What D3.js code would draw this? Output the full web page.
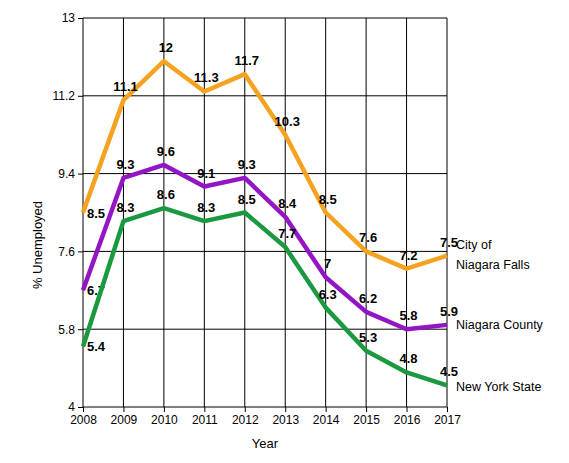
<!DOCTYPE html><html><head><script src="https://cdn.jsdelivr.net/npm/d3@7"></script>
<style>body{margin:0;background:#fff}text{font-family:Arial,"Liberation Sans",sans-serif}</style></head><body>
<svg id="c" width="569" height="463"></svg>
<script>
const years=[2008,2009,2010,2011,2012,2013,2014,2015,2016,2017];
const yTicks=[4,5.8,7.6,9.4,11.2,13];
const city=[8.5,11.1,12,11.3,11.7,10.3,8.5,7.6,7.2,7.5];
const county=[6.7,9.3,9.6,9.1,9.3,8.4,7,6.2,5.8,5.9];
const state=[5.4,8.3,8.6,8.3,8.5,7.7,6.3,5.3,4.8,4.5];
const seriesNames=[["City of","Niagara Falls"],["Niagara County"],["New York State"]];
const colors=["#f5a221","#9415c4","#1a9940"];
const svg=d3.select("#c");
const x=d3.scaleLinear().domain([2008,2017]).range([83,447]);
const y=d3.scaleLinear().domain([4,13]).range([407,18]);
const g=svg.append("g");
years.forEach(v=>g.append("line").attr("x1",x(v)).attr("x2",x(v)).attr("y1",18).attr("y2",407).attr("stroke","#000").attr("stroke-width",1));
yTicks.forEach(v=>g.append("line").attr("x1",83).attr("x2",447).attr("y1",y(v)).attr("y2",y(v)).attr("stroke","#000").attr("stroke-width",1));
svg.append("g").attr("transform","translate(0,407)").call(d3.axisBottom(x).tickValues(years).tickFormat(d3.format("d")).tickSize(5)).call(a=>{a.select(".domain").remove();a.selectAll("text").attr("font-size",12).attr("fill","#000");});
svg.append("g").attr("transform","translate(83,0)").call(d3.axisLeft(y).tickValues(yTicks).tickFormat(d=>d).tickSize(5)).call(a=>{a.select(".domain").remove();a.selectAll("text").attr("font-size",12).attr("fill","#000");});
svg.append("text").attr("x",265).attr("y",448).attr("text-anchor","middle").attr("font-size",13).text("Year");
svg.append("text").attr("transform","translate(42,245) rotate(-90)").attr("text-anchor","middle").attr("font-size",13).text("%  Unemployed");
const line=d3.line().x((d,i)=>x(years[i])).y(d=>y(d));
[city,county,state].forEach((s,k)=>{
 svg.append("path").attr("d",line(s)).attr("fill","none").attr("stroke",colors[k]).attr("stroke-width",4.5).attr("stroke-linejoin","round");
 s.forEach((v,i)=>svg.append("text").attr("x",x(years[i])+(i==0?13:2)).attr("y",y(v)-(i==0?-5:9)).attr("text-anchor","middle").attr("font-size",13).attr("font-weight","bold").text(v));
});
const ly=[[249,269],[329],[391]];
seriesNames.forEach((n,k)=>n.forEach((t,j)=>svg.append("text").attr("x",456).attr("y",ly[k][j]).attr("font-size",12.5).text(t)));
</script></body></html>
